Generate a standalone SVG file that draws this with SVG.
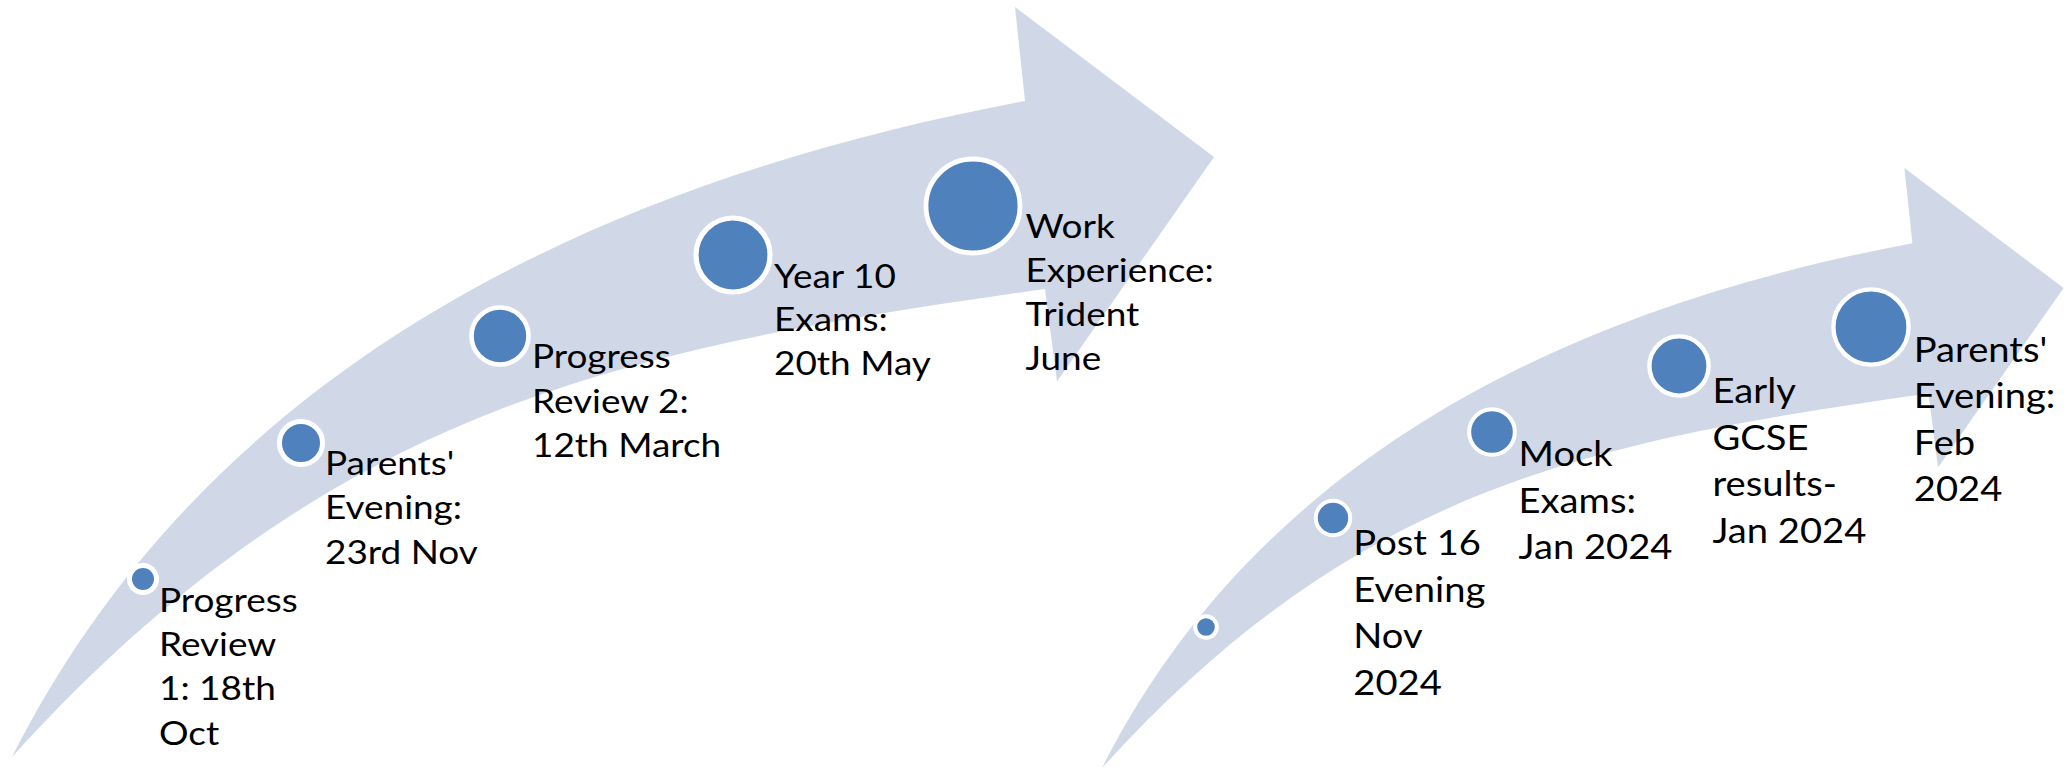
<svg xmlns="http://www.w3.org/2000/svg" xmlns:xlink="http://www.w3.org/1999/xlink" width="2067" height="770" viewBox="0 0 2067 770">
  <style>
    .band { fill: #D0D8E8; }
    .dot { fill: #4F81BD; stroke: #FFFFFF; }
    .lbl { font-family: Lato, "Liberation Sans", sans-serif; fill: #000000; }
    .l1 { font-size: 33px; }
    .l2 { font-size: 35px; }
  </style>
  <defs>
    <!-- curved block arrow: tail at (12,757), head pointing right -->
    <path id="curvedArrow" d="M12,757 C192,401 541,192 1025,101 L1015,7 L1214,157 L1057,381.5 L1045,289 C629,348 334,402 12,757 Z"/>
  </defs>

  <g id="arrow-1">
    <use xlink:href="#curvedArrow" class="band"/>
  </g>
  <g id="arrow-2">
    <!-- same arrow at 80% size, tail moved to (1102,768) -->
    <use xlink:href="#curvedArrow" class="band" transform="matrix(0.8,0,0,0.8,1092.4,162.4)"/>
  </g>

  <!-- first row of milestones -->
  <g id="progress-review-1">
    <circle class="dot" cx="143" cy="579" r="13.5" stroke-width="5"/>
    <text class="lbl l1" transform="translate(159,611.7) scale(1.12,1)"><tspan x="0" y="0">Progress</tspan><tspan x="0" dy="44.3">Review</tspan><tspan x="0" dy="44.3">1: 18th</tspan><tspan x="0" dy="44.3">Oct</tspan></text>
  </g>
  <g id="parents-evening-nov">
    <circle class="dot" cx="301" cy="443" r="21.5" stroke-width="5"/>
    <text class="lbl l1" transform="translate(325,475) scale(1.12,1)"><tspan x="0" y="0">Parents'</tspan><tspan x="0" dy="44.3">Evening:</tspan><tspan x="0" dy="44.3">23rd Nov</tspan></text>
  </g>
  <g id="progress-review-2">
    <circle class="dot" cx="500" cy="336" r="28.5" stroke-width="4.6"/>
    <text class="lbl l1" transform="translate(532,368.3) scale(1.12,1)"><tspan x="0" y="0">Progress</tspan><tspan x="0" dy="44.3">Review 2:</tspan><tspan x="0" dy="44.3">12th March</tspan></text>
  </g>
  <g id="year-10-exams">
    <circle class="dot" cx="733" cy="255" r="37" stroke-width="5.2"/>
    <text class="lbl l1" transform="translate(774,287.5) scale(1.12,1)"><tspan x="0" y="0">Year 10</tspan><tspan x="0" dy="44">Exams:</tspan><tspan x="0" dy="44">20th May</tspan></text>
  </g>
  <g id="work-experience">
    <circle class="dot" cx="973" cy="206" r="47" stroke-width="4.8"/>
    <text class="lbl l1" transform="translate(1025.4,238.3) scale(1.12,1)"><tspan x="0" y="0">Work</tspan><tspan x="0" dy="44">Experience:</tspan><tspan x="0" dy="44">Trident</tspan><tspan x="0" dy="44">June</tspan></text>
  </g>

  <!-- second row of milestones -->
  <g id="start-dot">
    <circle class="dot" cx="1206" cy="627" r="10.8" stroke-width="4"/>
  </g>
  <g id="post-16-evening">
    <circle class="dot" cx="1333" cy="518" r="17.2" stroke-width="4"/>
    <text class="lbl l2" transform="translate(1353.3,555) scale(1.09,1)"><tspan x="0" y="0">Post 16</tspan><tspan x="0" dy="46.6">Evening</tspan><tspan x="0" dy="46.6">Nov</tspan><tspan x="0" dy="46.6">2024</tspan></text>
  </g>
  <g id="mock-exams">
    <circle class="dot" cx="1492" cy="432" r="22.8" stroke-width="4"/>
    <text class="lbl l2" transform="translate(1518.6,466.3) scale(1.09,1)"><tspan x="0" y="0">Mock</tspan><tspan x="0" dy="46.6">Exams:</tspan><tspan x="0" dy="46.6">Jan 2024</tspan></text>
  </g>
  <g id="early-gcse-results">
    <circle class="dot" cx="1679" cy="366" r="29.6" stroke-width="4.4"/>
    <text class="lbl l2" transform="translate(1712.5,403) scale(1.09,1)"><tspan x="0" y="0">Early</tspan><tspan x="0" dy="46.6">GCSE</tspan><tspan x="0" dy="46.6">results-</tspan><tspan x="0" dy="46.6">Jan 2024</tspan></text>
  </g>
  <g id="parents-evening-feb">
    <circle class="dot" cx="1871" cy="327" r="37.6" stroke-width="4.4"/>
    <text class="lbl l2" transform="translate(1913.8,361.5) scale(1.09,1)"><tspan x="0" y="0">Parents'</tspan><tspan x="0" dy="46.6">Evening:</tspan><tspan x="0" dy="46.6">Feb</tspan><tspan x="0" dy="46.6">2024</tspan></text>
  </g>
</svg>
